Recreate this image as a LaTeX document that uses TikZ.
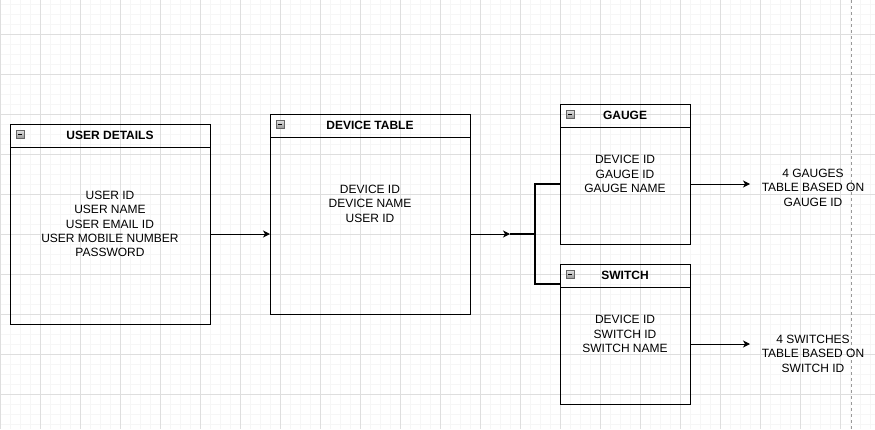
\documentclass[tikz,border=0pt]{standalone}
\usepackage{fontspec}
\setmainfont{Liberation Sans}
\usetikzlibrary{arrows.meta}
\begin{document}
\begin{tikzpicture}[x=1pt,y=-1pt,
  box/.style={draw=black,line width=1pt,rectangle,inner sep=0pt,outer sep=0pt,anchor=north west},
  hdr/.style={font=\bfseries\fontsize{12}{14.4}\selectfont,inner sep=0pt},
  body/.style={align=center,font=\fontsize{12}{14.4}\selectfont,inner sep=0pt},
  conn/.style={line width=1pt,-{Stealth[length=7pt,width=7pt,inset=2pt]}},
  thk/.style={line width=2.6pt},
  minorgrid/.style={draw=black!3.5,line width=0.8pt},
  majorgrid/.style={draw=black!13,line width=0.8pt},
  minusicon/.pic={
    \draw[draw=black!60,top color=black!10,bottom color=black!40,line width=0.7pt] (0,0) rectangle (8,8);
    \draw[line width=1pt] (1.8,4) -- (6.2,4);
  }]
\useasboundingbox (0,0) rectangle (875,429);
\fill[white] (0,0) rectangle (875,429);
% grid
\foreach \x in {0,10,...,870} \draw[minorgrid] (\x,0) -- (\x,429);
\foreach \y in {4,14,...,424} \draw[minorgrid] (0,\y) -- (875,\y);
\foreach \x in {0,40,...,840} \draw[majorgrid] (\x,0) -- (\x,429);
\foreach \y in {34,74,...,394} \draw[majorgrid] (0,\y) -- (875,\y);
\draw[black!40,dashed,line width=0.8pt] (851,0) -- (851,429);

% boxes
\node[box,minimum width=200pt,minimum height=200pt] (user) at (10,124) {};
\node[box,minimum width=200pt,minimum height=200pt] (dev) at (270,114) {};
\node[box,minimum width=130pt,minimum height=140pt] (gauge) at (560,104) {};
\node[box,minimum width=130pt,minimum height=140pt] (switch) at (560,264) {};

% header separators
\draw[line width=1pt] ([yshift=-23pt]user.north west) -- ([yshift=-23pt]user.north east);
\draw[line width=1pt] ([yshift=-23pt]dev.north west) -- ([yshift=-23pt]dev.north east);
\draw[line width=1pt] ([yshift=-23pt]gauge.north west) -- ([yshift=-23pt]gauge.north east);
\draw[line width=1pt] ([yshift=-23pt]switch.north west) -- ([yshift=-23pt]switch.north east);

% icons
\pic at ([xshift=6pt,yshift=-6pt]user.north west) {minusicon};
\pic at ([xshift=6pt,yshift=-6pt]dev.north west) {minusicon};
\pic at ([xshift=6pt,yshift=-6pt]gauge.north west) {minusicon};
\pic at ([xshift=6pt,yshift=-6pt]switch.north west) {minusicon};

% headers
\node[hdr] (userh) at (110,135.5) {USER DETAILS};
\node[hdr] (devh) at (370,125.5) {DEVICE TABLE};
\node[hdr] (gaugeh) at (625,115.5) {GAUGE};
\node[hdr] (switchh) at (625,275.5) {SWITCH};

% bodies
\node[body] (userb) at (110,224) {USER ID\\USER NAME\\USER EMAIL ID\\USER MOBILE NUMBER\\PASSWORD};
\node[body] (devb) at (370,203.5) {DEVICE ID\\DEVICE NAME\\USER ID};
\node[body] (gaugeb) at (625,174) {DEVICE ID\\GAUGE ID\\GAUGE NAME};
\node[body] (switchb) at (625,334) {DEVICE ID\\SWITCH ID\\SWITCH NAME};

% side labels
\node[body] (glab) at (813,187.5) {4 GAUGES\\TABLE BASED ON\\GAUGE ID};
\node[body] (slab) at (813,353.5) {4 SWITCHES\\TABLE BASED ON\\SWITCH ID};

% connectors
\coordinate (j) at (510,234);
\coordinate (k) at (535,234);
\coordinate (ga) at (750,184);
\coordinate (sa) at (750,344);
\draw[conn] (user.east |- j) -- (dev.west |- j);
\draw[conn] (dev.east |- j) -- (j);
\draw[thk] (j) -- (k);
\draw[thk] ([yshift=-10pt]gauge.west) -| (k) |- ([yshift=50pt]switch.west);
\draw[conn] (gauge.east |- ga) -- (ga);
\draw[conn] (switch.east |- sa) -- (sa);
\end{tikzpicture}
\end{document}
